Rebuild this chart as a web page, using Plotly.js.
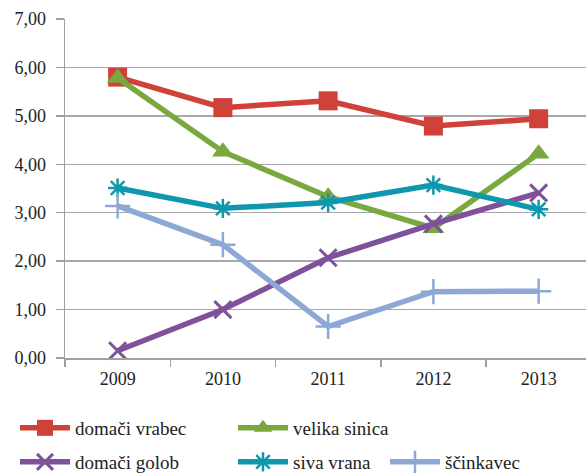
<!DOCTYPE html>
<html>
<head>
<meta charset="utf-8">
<script src="https://cdn.plot.ly/plotly-3.0.1.min.js"></script>
<style>html,body{margin:0;padding:0;background:#fff}#chart{width:586px;height:473px}</style>
</head>
<body>
<div id="chart"></div>
<script>
const years = ["2009", "2010", "2011", "2012", "2013"];
const domaciVrabec = [5.80, 5.17, 5.31, 4.79, 4.94];
const velikaSinica = [5.78, 4.26, 3.33, 2.68, 4.22];
const domaciGolob = [0.15, 1.00, 2.07, 2.77, 3.41];
const sivaVrana = [3.51, 3.09, 3.21, 3.57, 3.07];
const scinkavec = [3.14, 2.34, 0.65, 1.37, 1.38];
const seriesNames = ["domači vrabec", "velika sinica", "domači golob", "siva vrana", "ščinkavec"];
const yTicks = [0, 1, 2, 3, 4, 5, 6, 7];

const font = "'Liberation Serif', 'DejaVu Serif', serif";

function tr(name, y, color, symbol, size, mlw, legend) {
  return {
    type: "scatter", mode: "lines+markers", x: years, y: y, name: name,
    legend: legend,
    line: {color: color, width: 5.5},
    marker: {color: color, symbol: symbol, size: size, line: {color: color, width: mlw}},
    cliponaxis: false
  };
}

const data = [
  tr(seriesNames[0], domaciVrabec, "#cf4139", "square", 19, 0, "legend"),
  tr(seriesNames[1], velikaSinica, "#79a83e", "triangle-up", 19, 0, "legend"),
  tr(seriesNames[2], domaciGolob, "#80519b", "x-thin", 17, 3, "legend2"),
  tr(seriesNames[3], sivaVrana, "#0f98ad", "asterisk", 16, 2.5, "legend2"),
  tr(seriesNames[4], scinkavec, "#8ea8d6", "cross-thin", 18, 2.5, "legend3")
];

const legendBase = {
  orientation: "h", xref: "container", yref: "container",
  xanchor: "left", yanchor: "middle",
  font: {family: font, size: 19, color: "#222"},
  bgcolor: "rgba(0,0,0,0)", itemwidth: 50, tracegroupgap: 0
};

const layout = {
  width: 586, height: 473,
  paper_bgcolor: "#fff", plot_bgcolor: "#fff",
  margin: {l: 65, r: 0, t: 19, b: 115},
  font: {family: font, size: 17, color: "#222"},
  showlegend: true,
  xaxis: {
    type: "category", range: [-0.5, 4.45],
    showline: true, linecolor: "#a0a0a0", linewidth: 1.5,
    ticks: "outside", tickson: "boundaries", ticklen: 7, tickcolor: "#a0a0a0", tickwidth: 1.5,
    ticklabelstandoff: 4,
    showgrid: false, zeroline: false,
    tickfont: {family: font, size: 18, color: "#222"}
  },
  yaxis: {
    range: [0, 7], tickvals: yTicks, tickformat: ".2f",
    showline: true, linecolor: "#a0a0a0", linewidth: 1.5,
    ticks: "outside", ticklen: 8, tickcolor: "#a0a0a0", tickwidth: 1.5,
    ticklabelstandoff: 6,
    showgrid: true, gridcolor: "#a8a8a8", gridwidth: 1.5, zeroline: false,
    tickfont: {family: font, size: 18, color: "#222"}
  },
  separators: ",.",
  legend: Object.assign({}, legendBase, {x: 15/586, y: 1 - 428/473, entrywidth: 153, entrywidthmode: "pixels"}),
  legend2: Object.assign({}, legendBase, {x: 15/586, y: 1 - 462/473, entrywidth: 153, entrywidthmode: "pixels"}),
  legend3: Object.assign({}, legendBase, {x: 385/586, y: 1 - 462/473})
};

Plotly.newPlot("chart", data, layout, {displayModeBar: false, staticPlot: true});
</script>
</body>
</html>
